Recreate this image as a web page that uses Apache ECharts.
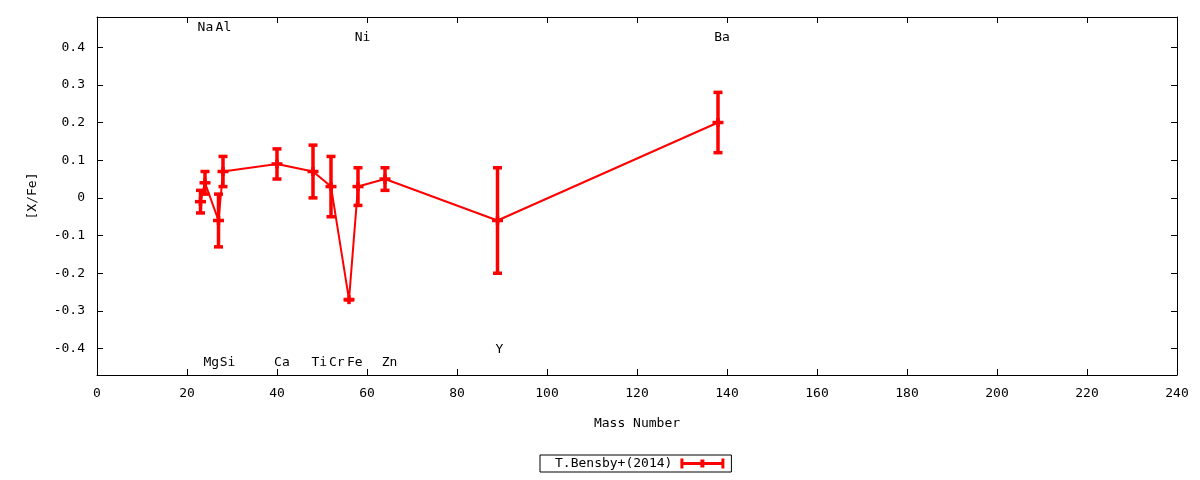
<!DOCTYPE html>
<html><head><meta charset="utf-8">
<script src="https://cdn.jsdelivr.net/npm/echarts@6/dist/echarts.min.js"></script>
<style>html,body{margin:0;padding:0;background:#fff}#c{width:1200px;height:480px}</style>
</head><body><div id="c"></div>
<script>
// data
const elements   = ['Na','Mg','Al','Si','Ca','Ti','Cr','Fe','Ni','Zn','Y','Ba'];
const massNumber = [23, 24, 27, 28, 40, 48, 52, 56, 58, 64, 89, 138];
const abundance  = [-0.01, 0.04, -0.06, 0.07, 0.09, 0.07, 0.03, -0.27, 0.03, 0.05, -0.06, 0.20];
const errors     = [0.03, 0.03, 0.07, 0.04, 0.04, 0.07, 0.08, 0.0, 0.05, 0.03, 0.14, 0.08];
// element annotation labels (text, x in mass number, y in [X/Fe])
const labelNames = ['Na','Al','Ni','Ba','Mg','Si','Ca','Ti','Cr','Fe','Zn','Y'];
const labelX     = [24.1, 28.1, 59.0, 138.9, 25.4, 29.0, 41.1, 49.4, 53.3, 57.3, 65.0, 89.4];
const labelY     = [0.452, 0.452, 0.425, 0.425, -0.437, -0.437, -0.437, -0.437, -0.437, -0.437, -0.437, -0.403];
const yTicks     = [-0.4, -0.3, -0.2, -0.1, 0, 0.1, 0.2, 0.3, 0.4];
const seriesName = 'T.Bensby+(2014)';

const FONT = 'DejaVu Sans Mono';
const RED = '#ff0000';
const chart = echarts.init(document.getElementById('c'));
const fmtY = v => { const r = Math.round(v * 10) / 10; return (r === 0 ? 0 : r).toString(); };

const lineData = massNumber.map((m, i) => [m, abundance[i]]);
const errData = massNumber.map((m, i) => [m, abundance[i], errors[i]]);
const labelData = labelNames.map((n, i) => ({ name: n, value: [labelX[i], labelY[i]] }));

const axisLine = { show: true, onZero: false, lineStyle: { color: '#000', width: 1 } };
const tick = { show: true, inside: true, length: 6, lineStyle: { color: '#000', width: 1 } };

chart.setOption({
  animation: false,
  backgroundColor: '#fff',
  grid: { left: 97, right: 23, top: 17, bottom: 105, containLabel: false },
  xAxis: [
    { type: 'value', min: 0, max: 240, interval: 20, position: 'bottom',
      name: 'Mass Number', nameLocation: 'middle', nameGap: 42,
      nameTextStyle: { fontFamily: FONT, fontSize: 13, color: '#000' },
      axisLine, axisTick: tick, splitLine: { show: false },
      axisLabel: { fontFamily: FONT, fontSize: 13, color: '#000', margin: 12 } },
    { type: 'value', min: 0, max: 240, interval: 20, position: 'top',
      axisLine, axisTick: tick, splitLine: { show: false }, axisLabel: { show: false } }
  ],
  yAxis: [
    { type: 'value', min: -0.47, max: 0.48, position: 'left',
      name: '[X/Fe]', nameLocation: 'middle', nameGap: 58, nameRotate: 90,
      nameTextStyle: { fontFamily: FONT, fontSize: 13, color: '#000' },
      axisLine, splitLine: { show: false },
      axisTick: Object.assign({}, tick, { customValues: yTicks }),
      axisLabel: { fontFamily: FONT, fontSize: 13, color: '#000', margin: 12,
        customValues: yTicks, formatter: fmtY } },
    { type: 'value', min: -0.47, max: 0.48, position: 'right',
      axisLine, splitLine: { show: false },
      axisTick: Object.assign({}, tick, { customValues: yTicks }),
      axisLabel: { show: false, customValues: yTicks } }
  ],
  legend: {
    left: 540, top: 455, orient: 'horizontal', align: 'right',
    backgroundColor: '#fff', borderColor: '#000', borderWidth: 1, borderRadius: 0,
    padding: [2, 7, 2, 15], itemWidth: 44, itemHeight: 10,
    textStyle: { fontFamily: FONT, fontSize: 13, color: '#000', padding: [0, 3, 0, 0] },
    itemStyle: { color: RED, borderWidth: 0 },
    data: [{ name: seriesName, icon: 'path://M0,0h3v10H0z M41,0h3v10h-3z M0,3.5h44v3H0z M20,1h4v8h-4z' }],
    selectedMode: false
  },
  series: [
    { name: seriesName, type: 'line', data: lineData, xAxisIndex: 0, yAxisIndex: 0,
      symbol: 'none', lineStyle: { color: RED, width: 2 }, itemStyle: { color: RED },
      z: 2 },
    { name: seriesName, type: 'custom', data: errData, xAxisIndex: 0, yAxisIndex: 0,
      encode: { x: 0, y: 1 }, itemStyle: { color: RED }, z: 3, clip: false,
      renderItem: function (params, api) {
        const x = api.value(0), y = api.value(1), e = api.value(2);
        const t = api.coord([x, y + e]), b = api.coord([x, y - e]), c = api.coord([x, y]);
        const st = { stroke: RED, lineWidth: 3.5 };
        const cap = 4.5;
        return { type: 'group', children: [
          { type: 'line', shape: { x1: t[0], y1: t[1], x2: b[0], y2: b[1] }, style: st },
          { type: 'line', shape: { x1: t[0] - cap, y1: t[1], x2: t[0] + cap, y2: t[1] }, style: st },
          { type: 'line', shape: { x1: b[0] - cap, y1: b[1], x2: b[0] + cap, y2: b[1] }, style: st },
          { type: 'line', shape: { x1: c[0] - 5.5, y1: c[1], x2: c[0] + 5.5, y2: c[1] }, style: st },
          { type: 'line', shape: { x1: c[0], y1: c[1] - 4.5, x2: c[0], y2: c[1] + 4.5 }, style: st }
        ] };
      } },
    { name: 'labels', type: 'scatter', data: labelData, xAxisIndex: 0, yAxisIndex: 0,
      symbolSize: 1, itemStyle: { color: 'rgba(0,0,0,0)' }, silent: true, z: 4,
      label: { show: true, position: 'inside', formatter: p => p.name, opacity: 1,
        textBorderWidth: 0, fontFamily: FONT, fontSize: 13, color: '#000' } }
  ]
});
</script>
</body></html>
